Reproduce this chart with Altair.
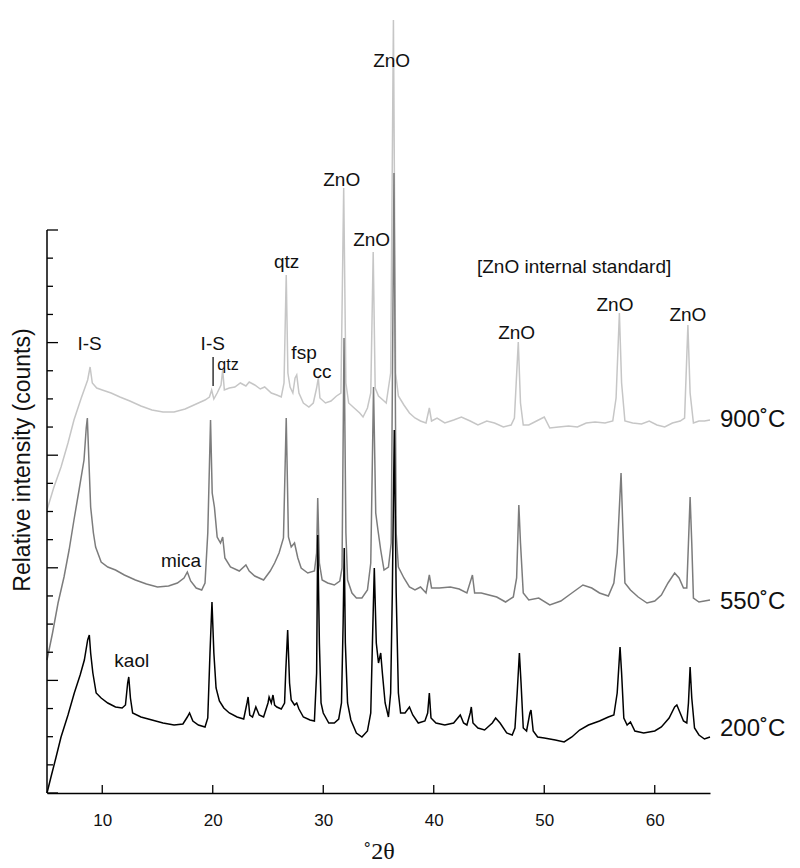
import altair as alt
import pandas as pd

# ---------------- data (y in relative counts) ----------------
x200 = [5.0, 5.36, 5.8, 6.27, 6.9, 7.47, 8.0, 8.38, 8.68, 8.83, 8.95, 9.15, 9.45, 9.9, 10.5, 11.2, 11.8, 12.1, 12.3, 12.4,
        12.55, 12.75, 13.5, 14.5, 15.5, 16.5, 17.3, 17.7, 17.9, 18.2, 18.7, 19.3, 19.55, 19.75, 19.93, 20.1, 20.3, 20.6, 21.0, 21.5,
        22.2, 22.8, 23.1, 23.2, 23.35, 23.6, 23.9, 24.2, 24.6, 25.0, 25.1, 25.3, 25.45, 25.6, 25.8, 26.2, 26.5, 26.6, 26.78, 26.95,
        27.1, 27.4, 27.6, 27.8, 28.2, 28.8, 29.2, 29.4, 29.5, 29.65, 29.8, 30.0, 30.5, 31.0, 31.4, 31.65, 31.8, 31.9, 32.0, 32.2,
        32.5, 33.0, 33.5, 34.0, 34.3, 34.45, 34.62, 34.8, 35.0, 35.2, 35.35, 35.6, 35.9, 36.1, 36.25, 36.43, 36.6, 36.8, 37.0, 37.4,
        37.8, 38.1, 38.6, 39.2, 39.45, 39.6, 39.75, 40.2, 41.0, 41.8, 42.4, 42.7, 43.0, 43.3, 43.4, 43.55, 44.0, 44.6, 45.3, 45.6,
        46.0, 46.6, 47.1, 47.35, 47.55, 47.75, 47.9, 48.1, 48.4, 48.7, 48.8, 49.0, 49.4, 50.0, 51.0, 51.8, 52.5, 53.2, 54.0, 55.0,
        55.8, 56.3, 56.6, 56.86, 57.0, 57.2, 57.5, 57.8, 58.2, 59.0, 60.0, 60.6, 61.3, 61.8, 62.0, 62.3, 62.6, 62.9, 63.05, 63.2,
        63.35, 63.6, 64.0, 64.5, 65.0]
y200 = [0, 16, 35, 56, 78, 100, 118, 133, 153, 158, 140, 120, 100, 95, 90, 86, 85, 88, 110, 116,
        95, 80, 76, 73, 70, 68, 69, 76, 80, 72, 68, 66, 75, 140, 191, 140, 105, 92, 85, 80,
        76, 74, 90, 96, 78, 76, 86, 78, 76, 90, 96, 90, 98, 88, 86, 84, 90, 120, 163, 110,
        93, 88, 90, 84, 76, 73, 72, 120, 258, 150, 90, 80, 70, 70, 74, 90, 170, 245, 150, 90,
        73, 60, 56, 62, 80, 150, 225, 150, 130, 140, 120, 90, 76, 100, 200, 363, 200, 100, 80, 80,
        86, 78, 70, 72, 80, 100, 75, 70, 68, 70, 78, 70, 68, 80, 86, 70, 65, 63, 70, 75,
        70, 60, 58, 65, 100, 140, 110, 65, 62, 80, 83, 62, 56, 55, 53, 51, 56, 63, 68, 72,
        76, 78, 100, 146, 120, 75, 68, 71, 62, 60, 62, 66, 75, 86, 88, 80, 72, 70, 90, 126,
        95, 65, 58, 54, 56]

x550 = [5.0, 5.5, 6.0, 6.54, 7.0, 7.44, 7.9, 8.35, 8.55, 8.65, 8.8, 8.95, 9.2, 9.4, 9.9, 10.5, 11.2, 12.0, 13.0, 14.0,
        15.0, 16.0, 16.8, 17.4, 17.7, 18.0, 18.5, 19.0, 19.3, 19.55, 19.8, 19.95, 20.15, 20.4, 20.7, 20.9, 21.1, 21.6, 22.4, 23.0,
        23.3, 23.8, 24.6, 25.2, 25.6, 26.0, 26.4, 26.65, 26.85, 27.1, 27.4, 27.7, 28.0, 28.6, 29.2, 29.4, 29.5, 29.65, 29.9, 30.4,
        31.0, 31.5, 31.7, 31.88, 32.05, 32.2, 32.6, 33.0, 33.5, 34.0, 34.3, 34.55, 34.75, 34.95, 35.2, 35.5, 35.9, 36.15, 36.4, 36.6,
        36.8, 37.3, 37.8, 38.3, 38.8, 39.3, 39.6, 39.8, 40.5, 41.5, 42.3, 43.0, 43.5, 43.7, 44.3, 45.0, 45.7, 46.5, 47.2, 47.5,
        47.7, 47.85, 48.1, 48.6, 49.5, 50.5, 51.5, 52.5, 53.5, 54.3, 55.0, 55.8, 56.3, 56.6, 56.95, 57.1, 57.3, 57.8, 58.5, 59.3,
        60.0, 60.6, 61.2, 61.8, 62.2, 62.6, 62.9, 63.05, 63.2, 63.35, 63.5, 64.0, 64.5, 65.0]
y550 = [133, 160, 190, 216, 243, 273, 303, 333, 365, 375, 330, 286, 260, 246, 231, 226, 223, 218, 213, 209,
        206, 207, 210, 215, 221, 212, 205, 203, 210, 260, 373, 300, 286, 256, 250, 256, 235, 226, 222, 228,
        222, 217, 213, 222, 230, 240, 255, 375, 256, 246, 250, 235, 225, 220, 222, 240, 295, 230, 213, 210,
        208, 212, 225, 455, 260, 213, 200, 195, 195, 203, 230, 406, 280, 263, 243, 223, 226, 250, 620, 260,
        226, 215, 206, 203, 206, 200, 218, 205, 205, 206, 204, 200, 218, 200, 200, 198, 196, 191, 196, 215,
        288, 250, 200, 193, 195, 188, 192, 200, 208, 205, 200, 197, 210, 240, 320, 270, 210, 203, 196, 190,
        192, 198, 210, 220, 215, 205, 205, 250, 296, 250, 195, 191, 192, 193]

x900 = [5.0, 5.6, 6.27, 6.9, 7.44, 8.1, 8.68, 8.9, 9.1, 9.5, 10.0, 10.8, 11.6, 12.5, 13.5, 14.5, 15.5, 16.5, 17.5, 18.5,
        19.3, 19.7, 19.9, 20.1, 20.4, 20.75, 20.9, 21.05, 21.5, 22.0, 22.5, 23.0, 23.3, 23.8, 24.3, 24.7, 25.3, 25.8, 26.2, 26.45,
        26.65, 26.8, 27.0, 27.25, 27.45, 27.6, 27.8, 28.2, 28.7, 29.1, 29.4, 29.55, 29.7, 30.2, 30.7, 31.2, 31.6, 31.85, 32.05, 32.3,
        32.8, 33.3, 33.6, 34.0, 34.3, 34.52, 34.7, 35.0, 35.4, 35.7, 35.9, 36.1, 36.35, 36.55, 36.8, 37.3, 37.8, 38.3, 38.8, 39.3,
        39.6, 39.8, 40.3, 41.0, 41.8, 42.5, 43.3, 44.0, 44.8, 45.5, 46.3, 47.0, 47.3, 47.65, 47.85, 48.1, 48.6, 49.3, 50.0, 50.5,
        51.3, 52.2, 53.0, 53.8, 54.6, 55.5, 56.2, 56.5, 56.8, 57.0, 57.3, 58.0, 58.8, 59.5, 60.2, 60.9, 61.6, 62.3, 62.7, 63.0,
        63.2, 63.5, 64.0, 64.5, 65.0]
y900 = [283, 305, 326, 350, 373, 395, 413, 426, 410, 405, 403, 400, 396, 392, 387, 383, 381, 381, 384, 389,
        393, 396, 403, 394, 400, 408, 423, 403, 405, 406, 410, 407, 411, 408, 404, 406, 400, 398, 396, 410,
        518, 420, 406, 400, 415, 418, 400, 390, 386, 390, 405, 415, 395, 390, 392, 397, 400, 605, 410, 390,
        385, 380, 376, 385, 400, 541, 405, 397, 393, 390, 405, 420, 773, 420, 397, 388, 380, 375, 372, 370,
        385, 372, 375, 370, 373, 376, 372, 368, 372, 370, 366, 368, 375, 451, 390, 368, 368, 372, 376, 365,
        366, 367, 366, 370, 371, 370, 372, 395, 480, 410, 372, 370, 369, 372, 368, 366, 370, 372, 375, 468,
        400, 370, 372, 372, 373]

series_names = ["900˚C", "550˚C", "200˚C"]
series_colors = ["#c6c6c6", "#7c7c7c", "#000000"]
series_label_y = [373, 191, 64]

ann_text = ["ZnO", "ZnO", "ZnO", "qtz", "[ZnO internal standard]", "I-S", "I-S", "fsp", "cc",
            "ZnO", "ZnO", "ZnO", "mica", "kaol"]
ann_x = [36.19, 31.67, 34.38, 26.69, 52.7, 8.85, 20.0, 28.26, 29.89, 47.5, 56.4, 63.0, 17.13, 12.67]
ann_y = [732, 613, 553, 531, 526, 449, 449, 440, 421, 460, 488, 478, 232, 132]

small_text = ["qtz"]
small_x = [21.38]
small_y = [428]
marker_x = [20.03]
marker_y0 = [407]
marker_y1 = [436]

x_ticks = [10, 20, 30, 40, 50, 60]
y_tick_step = 28.15
y_ticks_minor = [round(k * y_tick_step, 2) for k in range(21) if k % 4 != 0]
y_ticks_major = [round(k * y_tick_step, 2) for k in range(21) if k % 4 == 0]

# ---------------- chart ----------------
W, H = 663, 780
FONT = "Liberation Sans"
xs = alt.Scale(domain=[5, 65], nice=False, zero=False)
ys = alt.Scale(domain=[0, 780], nice=False, zero=False)
xaxis = alt.Axis(values=x_ticks, title="˚2θ", ticks=False, tickSize=0, grid=False,
                 labelFont=FONT, labelFontSize=17, labelColor="#111", labelPadding=19,
                 domainColor="#000", domainWidth=1.5,
                 titleFont="Liberation Serif", titleFontSize=24, titleFontWeight="normal",
                 titleColor="#111", titlePadding=11)


def X(field):
    return alt.X(field, scale=xs, axis=xaxis)


def Y(field):
    return alt.Y(field, scale=ys, axis=None)


series_x = [x900, x550, x200]
series_y = [y900, y550, y200]

layers = []
for name, col, xv, yv in zip(series_names, series_colors, series_x, series_y):
    df = pd.DataFrame({"x": xv, "y": yv})
    layers.append(alt.Chart(df).mark_line(color=col, strokeWidth=1.5, interpolate="linear").encode(
        x=X("x:Q"), y=Y("y:Q")))

# y axis line and inward ticks
axis_df = pd.DataFrame({"y0": [0], "y1": [y_ticks_major[-1]]})
layers.append(alt.Chart(axis_df).mark_rule(color="#000", strokeWidth=1.5).encode(
    x=alt.value(0), y=Y("y0:Q"), y2="y1:Q"))
layers.append(alt.Chart(pd.DataFrame({"t": y_ticks_major})).mark_rule(color="#000", strokeWidth=1.3).encode(
    x=alt.value(0), x2=alt.value(11), y=Y("t:Q")))
layers.append(alt.Chart(pd.DataFrame({"t": y_ticks_minor})).mark_rule(color="#000", strokeWidth=1.3).encode(
    x=alt.value(0), x2=alt.value(6), y=Y("t:Q")))
# x ticks inward
layers.append(alt.Chart(pd.DataFrame({"t": x_ticks})).mark_rule(color="#000", strokeWidth=1.3).encode(
    x=X("t:Q"), y=alt.value(H), y2=alt.value(H - 8)))

# annotations
ann_df = pd.DataFrame({"text": ann_text, "x": ann_x, "y": ann_y})
layers.append(alt.Chart(ann_df).mark_text(font=FONT, fontSize=19, color="#111", align="center",
                                          baseline="middle").encode(
    x=X("x:Q"), y=Y("y:Q"), text="text:N"))
small_df = pd.DataFrame({"text": small_text, "x": small_x, "y": small_y})
layers.append(alt.Chart(small_df).mark_text(font=FONT, fontSize=16, color="#111", align="center",
                                            baseline="middle").encode(
    x=X("x:Q"), y=Y("y:Q"), text="text:N"))
mk_df = pd.DataFrame({"x": marker_x, "y0": marker_y0, "y1": marker_y1})
layers.append(alt.Chart(mk_df).mark_rule(color="#000", strokeWidth=1.2).encode(
    x=X("x:Q"), y=Y("y0:Q"), y2="y1:Q"))

# series labels
lab_df = pd.DataFrame({"text": series_names, "y": series_label_y})
layers.append(alt.Chart(lab_df).mark_text(font=FONT, fontSize=24, color="#111", align="left",
                                          baseline="middle", dx=10).encode(
    x=alt.value(W), y=Y("y:Q"), text="text:N"))

# y title
layers.append(alt.Chart(pd.DataFrame({"t": ["Relative intensity (counts)"]})).mark_text(
    font=FONT, fontSize=23, color="#111", angle=270, align="center", baseline="middle").encode(
    x=alt.value(-24), y=alt.value(447), text="t:N"))

chart = alt.layer(*layers).properties(
    width=W, height=H, padding={"left": 4, "top": 5, "right": 5, "bottom": 5}
).configure_view(strokeWidth=0)

chart.save("out.html", embed_options={"renderer": "svg", "actions": False})
